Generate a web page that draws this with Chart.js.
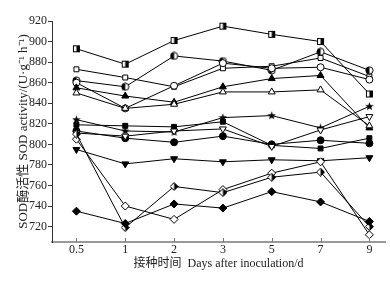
<!DOCTYPE html>
<html><head><meta charset="utf-8">
<script src="https://cdn.jsdelivr.net/npm/chart.js@4/dist/chart.umd.min.js"></script>
<style>html,body{margin:0;padding:0;background:#fff;overflow:hidden}canvas{display:block}</style>
</head><body><canvas id="c" width="390" height="283"></canvas>
<script>
const categories = ['0.5','1','2','3','5','7','9'];
const yTicks = [720,740,760,780,800,820,840,860,880,900,920];

const halfSquareS  = [893, 878, 901, 915, 907, 900, 849];
const openSquareS  = [873, 865, 856, 874, 876, 884, 866];
const halfCircleS  = [862, 856, 886, 881, 872, 890, 872];
const openCircleS  = [860, 835, 857, 879, 874, 875, 863];
const filledTriS   = [855, 847, 841, 856, 864, 867, 816];
const openTriS     = [850, 835, 839, 851, 851, 853, 818];
const starS        = [824, 813, 812, 826, 828, 816, 837];
const filledSqS    = [819, 818, 817, 822, 799, 796, 806];
const filledCircS  = [813, 806, 802, 808, 800, 804, 801];
const openDownS    = [811, 808, 813, 815, 798, 814, 827];
const filledDownS  = [795, 781, 786, 783, 785, 784, 787];
const openDiaS     = [805, 740, 727, 756, 772, 783, 712];
const halfDiaS     = [810, 719, 759, 753, 768, 773, 720];
const filledDiaS   = [735, 723, 742, 738, 754, 744, 725];

function mk(draw){const c=document.createElement('canvas');c.width=9;c.height=9;const g=c.getContext('2d');g.lineWidth=1;g.strokeStyle='#000';draw(g);return c;}
const mHalfSq = mk(g=>{g.fillStyle='#fff';g.fillRect(1,1,7,7);g.fillStyle='#000';g.fillRect(4.5,1,3.5,7);g.strokeRect(1.5,1.5,6,6);});
const mHalfCi = mk(g=>{g.beginPath();g.arc(4.5,4.5,3.6,0,Math.PI*2);g.fillStyle='#fff';g.fill();g.beginPath();g.moveTo(4.5,4.5);g.arc(4.5,4.5,3.6,Math.PI/2,Math.PI*1.5);g.closePath();g.fillStyle='#000';g.fill();g.beginPath();g.arc(4.5,4.5,3.6,0,Math.PI*2);g.stroke();});
const mHalfDi = mk(g=>{g.beginPath();g.moveTo(4.5,0.5);g.lineTo(8.5,4.5);g.lineTo(4.5,8.5);g.lineTo(0.5,4.5);g.closePath();g.fillStyle='#fff';g.fill();g.beginPath();g.moveTo(4.5,0.5);g.lineTo(8.5,4.5);g.lineTo(4.5,8.5);g.closePath();g.fillStyle='#000';g.fill();g.beginPath();g.moveTo(4.5,0.5);g.lineTo(8.5,4.5);g.lineTo(4.5,8.5);g.lineTo(0.5,4.5);g.closePath();g.stroke();});
const mStar = mk(g=>{g.beginPath();for(let i=0;i<10;i++){const r=i%2?1.9:4.5;const a=-Math.PI/2+i*Math.PI/5;const x=4.5+r*Math.cos(a),y=4.7+r*Math.sin(a);i?g.lineTo(x,y):g.moveTo(x,y);}g.closePath();g.fillStyle='#000';g.fill();});

function ds(data, style, fill, extra){
  return Object.assign({data: data.map((v,i)=>({x:i,y:v})), borderColor:'#000', borderWidth:1, tension:0, fill:false,
    pointStyle: style, pointRadius:3.5, pointBorderColor:'#000', pointBorderWidth:1, pointBackgroundColor: fill}, extra||{});
}
const datasets = [
  ds(filledDiaS,'rectRot','#000',{pointRadius:4}),
  ds(halfDiaS,mHalfDi,'#000'),
  ds(openDiaS,'rectRot','#fff',{pointRadius:4}),
  ds(filledDownS,'triangle','#000',{pointRotation:180,pointRadius:4}),
  ds(openDownS,'triangle','#fff',{pointRotation:180,pointRadius:4}),
  ds(filledCircS,'circle','#000'),
  ds(filledSqS,'rect','#000'),
  ds(starS,mStar,'#000'),
  ds(openTriS,'triangle','#fff',{pointRadius:4}),
  ds(filledTriS,'triangle','#000',{pointRadius:4}),
  ds(openCircleS,'circle','#fff'),
  ds(halfCircleS,mHalfCi,'#000'),
  ds(openSquareS,'rect','#fff'),
  ds(halfSquareS,mHalfSq,'#000'),
];

const xTickPlugin = {id:'xticks', afterDraw(chart){
  const s=chart.scales.x, ctx=chart.ctx; ctx.save(); ctx.strokeStyle='#777'; ctx.lineWidth=1;
  s.ticks.forEach(t=>{const px=Math.round(s.getPixelForValue(t.value))+0.5; ctx.beginPath(); ctx.moveTo(px,s.top); ctx.lineTo(px,s.top-4); ctx.stroke();});
  ctx.restore();
}};

const serif = "'Liberation Serif','Times New Roman','Noto Sans CJK SC',serif";
new Chart(document.getElementById('c'), {
  type:'line',
  data:{datasets},
  options:{
    responsive:false, animation:false, devicePixelRatio:1,
    layout:{padding:{top:21,right:0,left:0,bottom:0}},
    plugins:{legend:{display:false}, tooltip:{enabled:false}},
    scales:{
      x:{type:'linear', min:-0.5, max:6.32,
        afterBuildTicks:s=>{s.ticks=categories.map((c,i)=>({value:i}));},
        afterFit:s=>{s.height=41;},
        ticks:{callback:v=>categories[v], font:{family:serif,size:12}, color:'#222', padding:1, maxRotation:0, autoSkip:false},
        grid:{display:false, drawTicks:false},
        border:{color:'#999', width:2},
        title:{display:true, text:'接种时间  Days after inoculation/d', font:{family:serif,size:12}, color:'#222', padding:{top:0,bottom:12}}
      },
      y:{type:'linear', min:705, max:920,
        afterBuildTicks:s=>{s.ticks=yTicks.map(v=>({value:v}));},
        afterFit:s=>{s.width=52;},
        ticks:{font:{family:serif,size:12}, color:'#222', padding:1},
        grid:{drawOnChartArea:false, drawTicks:true, tickLength:4, color:'#333'},
        border:{color:'#333', width:1},
        title:{display:true, text:'SOD酶活性 SOD activity/(U·g⁻¹ h⁻¹)', font:{family:serif,size:13}, color:'#222', padding:{top:16,bottom:0}}
      }
    }
  },
  plugins:[xTickPlugin]
});
</script></body></html>
